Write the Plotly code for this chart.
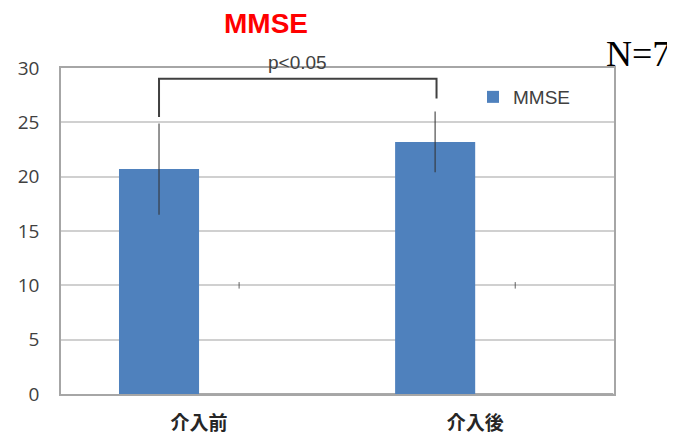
import plotly.graph_objects as go

categories = ["介入前", "介入後"]
mmse_mean = [20.7, 23.2]
mmse_err = [4.2, 2.8]
blank_vals = [10, 10]
blank_err = [0.3, 0.3]
y_ticks = [0, 5, 10, 15, 20, 25, 30]

bar_color = "#4f81bd"
text_color = "#404040"

fig = go.Figure()
fig.add_trace(go.Bar(
    x=categories, y=mmse_mean, name="MMSE",
    marker=dict(color=bar_color, line=dict(width=0)),
    error_y=dict(type="data", array=mmse_err, visible=True,
                 color="rgba(50,50,50,0.65)", thickness=1.6, width=0),
))
fig.add_trace(go.Bar(
    x=categories, y=blank_vals, name="", showlegend=False,
    marker=dict(color="rgba(0,0,0,0)", line=dict(width=0)),
    error_y=dict(type="data", array=blank_err, visible=True,
                 color="rgba(60,60,60,0.8)", thickness=1, width=0),
    hoverinfo="skip",
))

# darker partial lines (as in the picture)
for yv in [5, 0]:
    fig.add_shape(type="line", xref="x", yref="y", x0=0.0, x1=1.5, y0=yv, y1=yv,
                  line=dict(color="#8c8c8c", width=1.5), layer="below")

# significance bracket
bx0, bx1 = -0.145, 0.86
fig.add_shape(type="path", xref="x", yref="y",
              path=f"M {bx0},25.5 L {bx0},29.0 L {bx1},29.0 L {bx1},27.2",
              line=dict(color="#404040", width=2))

fig.add_annotation(text="MMSE", xref="paper", yref="paper", x=0.371, y=1.138,
                   xanchor="center", yanchor="middle", showarrow=False,
                   font=dict(family="Liberation Sans", size=28, color="#ff0000", weight="bold"))
fig.add_annotation(text="p<0.05", xref="paper", yref="paper", x=0.427, y=1.017,
                   xanchor="center", yanchor="middle", showarrow=False,
                   font=dict(family="Liberation Sans", size=19, color=text_color))
fig.add_annotation(text="N=7", xref="paper", yref="paper", x=1.044, y=1.044,
                   xanchor="center", yanchor="middle", showarrow=False,
                   font=dict(family="Liberation Serif", size=36, color="#000000"))

fig.update_layout(
    width=667, height=426,
    margin=dict(l=53, r=61, t=60, b=40, autoexpand=False),
    paper_bgcolor="white", plot_bgcolor="white",
    barmode="group", bargap=0.42, bargroupgap=0,
    showlegend=True,
    legend=dict(x=0.745, y=0.911, xanchor="left", yanchor="middle",
                bgcolor="rgba(0,0,0,0)",
                font=dict(family="Liberation Sans", size=19, color=text_color)),
    xaxis=dict(showgrid=False, showline=True, mirror=True, linecolor="#a6a6a6",
               linewidth=1.5, ticks="", ticklabelstandoff=11, automargin=False,
               tickfont=dict(family="Noto Sans CJK JP", size=19, color="#262626", weight="bold")),
    yaxis=dict(range=[0, 30], tickvals=y_ticks, showgrid=True, gridcolor="#d0d0d0",
               gridwidth=1.5, showline=True, mirror=True, linecolor="#a6a6a6",
               linewidth=1.5, ticks="", ticklabelstandoff=16, zeroline=False, automargin=False,
               tickfont=dict(family="Open Sans", size=19, color=text_color)),
)

fig.write_html("out.html")
